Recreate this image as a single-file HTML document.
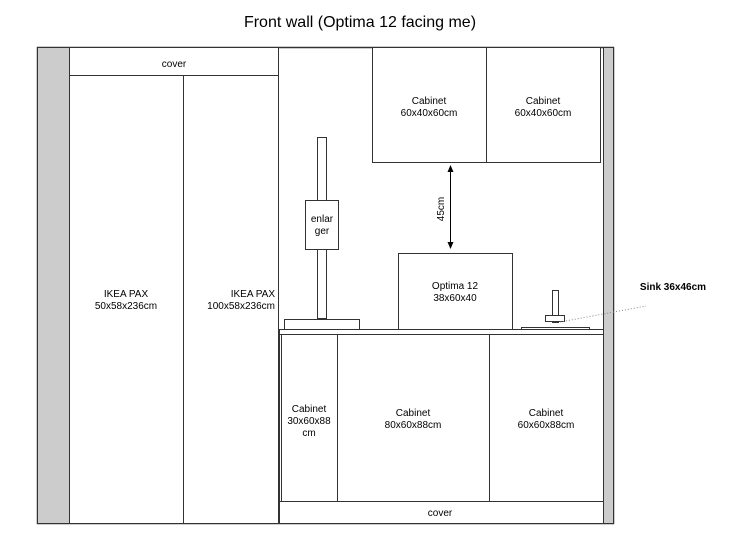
<!DOCTYPE html>
<html><head><meta charset="utf-8"><style>
html,body{margin:0;padding:0;background:#fff;width:730px;height:555px;overflow:hidden}
text{font-family:"Liberation Sans",Arial,sans-serif;font-size:10px;fill:#000}
</style></head><body>
<svg width="730" height="555" xmlns="http://www.w3.org/2000/svg">
<text x="360" y="27" text-anchor="middle" style="font-size:16px">Front wall (Optima 12 facing me)</text>
<g stroke="#333" stroke-width="1" fill="#fff">
<rect x="37.5" y="47.5" width="576" height="476" stroke-width="1.5"/>
<rect x="37.5" y="47.5" width="32" height="476" fill="#ccc"/>
<rect x="603.5" y="47.5" width="10" height="476" fill="#ccc"/>
<rect x="69.5" y="47.5" width="209" height="28"/>
<rect x="69.5" y="75.5" width="114" height="448"/>
<rect x="183.5" y="75.5" width="95" height="448"/>
<rect x="372.5" y="47.5" width="114" height="115"/>
<rect x="486.5" y="47.5" width="114" height="115"/>
<rect x="317.5" y="137.5" width="9" height="181"/>
<rect x="305.5" y="200.5" width="33" height="49"/>
<rect x="284.5" y="319.5" width="75" height="10"/>
<rect x="398.5" y="253.5" width="114" height="76"/>
<rect x="521.5" y="327.5" width="68" height="2"/>
<rect x="552.5" y="290.5" width="6" height="32"/>
<rect x="545.5" y="315.5" width="19" height="6"/>
<rect x="279.5" y="329.5" width="324" height="5"/>
<rect x="281.5" y="334.5" width="56" height="167"/>
<rect x="337.5" y="334.5" width="152" height="167"/>
<rect x="489.5" y="334.5" width="114" height="167"/>
<rect x="279.5" y="501.5" width="324" height="22"/>
<line x1="279.5" y1="334.5" x2="279.5" y2="501.5"/>
</g>
<line x1="450.5" y1="170" x2="450.5" y2="244" stroke="#000" stroke-width="1"/>
<path d="M447.5 172 L450.5 165 L453.5 172Z M447.5 242 L450.5 249 L453.5 242Z" fill="#000"/>
<line x1="560" y1="322" x2="646" y2="306" stroke="#888" stroke-dasharray="1,2"/>
<text x="174" y="67" text-anchor="middle">cover</text>
<text x="126" y="297" text-anchor="middle">IKEA PAX</text>
<text x="126" y="309" text-anchor="middle">50x58x236cm</text>
<text x="275" y="297" text-anchor="end">IKEA PAX</text>
<text x="275" y="309" text-anchor="end">100x58x236cm</text>
<text x="429" y="104" text-anchor="middle">Cabinet</text>
<text x="429" y="116" text-anchor="middle">60x40x60cm</text>
<text x="543" y="104" text-anchor="middle">Cabinet</text>
<text x="543" y="116" text-anchor="middle">60x40x60cm</text>
<text x="322" y="222" text-anchor="middle">enlar</text>
<text x="322" y="234" text-anchor="middle">ger</text>
<text transform="translate(444,209) rotate(-90)" text-anchor="middle">45cm</text>
<text x="455" y="289" text-anchor="middle">Optima 12</text>
<text x="455" y="301" text-anchor="middle">38x60x40</text>
<text x="673" y="290" text-anchor="middle" style="font-weight:bold">Sink 36x46cm</text>
<text x="309" y="412" text-anchor="middle">Cabinet</text>
<text x="309" y="424" text-anchor="middle">30x60x88</text>
<text x="309" y="436" text-anchor="middle">cm</text>
<text x="413" y="416" text-anchor="middle">Cabinet</text>
<text x="413" y="428" text-anchor="middle">80x60x88cm</text>
<text x="546" y="416" text-anchor="middle">Cabinet</text>
<text x="546" y="428" text-anchor="middle">60x60x88cm</text>
<text x="440" y="516" text-anchor="middle">cover</text>
</svg>
</body></html>
